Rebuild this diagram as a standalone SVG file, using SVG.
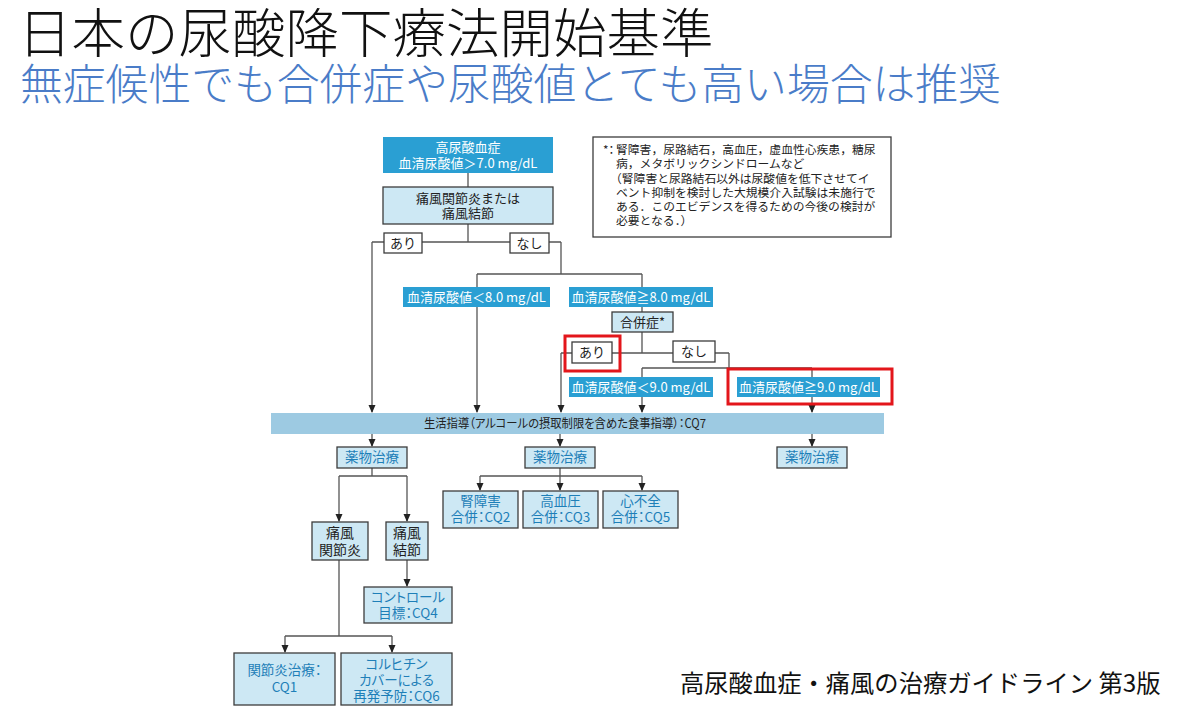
<svg xmlns="http://www.w3.org/2000/svg" width="1200" height="725" viewBox="0 0 1200 725">
<defs>
<marker id="arr" markerWidth="8" markerHeight="8" refX="7" refY="4" orient="auto" markerUnits="userSpaceOnUse">
<path d="M0,0.5 L8,4 L0,7.5 z" fill="#222"/>
</marker>
<style>
text{font-family:"Noto Sans CJK JP","Noto Sans",sans-serif;}
.ttl{font-size:53.5px;font-weight:300;fill:#111;}
.sub{font-size:42.8px;font-weight:300;fill:#4a7cc8;}
.foot{font-size:24.3px;fill:#111;}
.dk{fill:#2a9fd3;}
.lt{fill:#cde8f4;stroke:#3c3c3c;stroke-width:1.3;}
.wb{fill:#fff;stroke:#3c3c3c;stroke-width:1.3;}
.red{fill:none;stroke:#e3161b;stroke-width:3;}
.bar{fill:#9dcae2;}
.wt{font-size:13px;fill:#fff;text-anchor:middle;}
.bt{font-size:13.5px;fill:#1e7fb8;text-anchor:middle;font-feature-settings:"palt";}
.kt{font-size:13px;fill:#222;text-anchor:middle;}
.nt{font-size:11.8px;fill:#222;}
.pa{font-feature-settings:"palt";}
.ln{fill:none;stroke:#555;stroke-width:1.3;}
</style>
</defs>
<rect width="1200" height="725" fill="#fff"/>
<text class="ttl" x="18" y="53">日本の尿酸降下療法開始基準</text>
<text class="sub" x="20" y="100">無症候性でも合併症や尿酸値とても高い場合は推奨</text>
<text class="foot" x="680" y="692">高尿酸血症・痛風の治療ガイドライン 第3版</text>

<g id="connectors">
<path class="ln" d="M468,173 V187 M468,224 V242 M372,242 H561"/>
<path class="ln" d="M372,242 V412" marker-end="url(#arr)"/>
<path class="ln" d="M561,242 V274 M477,274 H642 M477,274 V287 M642,274 V287"/>
<path class="ln" d="M477,307 V412" marker-end="url(#arr)"/>
<path class="ln" d="M642,307 V312 M642,332 V353 M561,353 H729 M729,353 V368 M642,368 H812 M642,368 V377 M812,368 V377"/>
<path class="ln" d="M561,353 V412" marker-end="url(#arr)"/>
<path class="ln" d="M642,397 V412" marker-end="url(#arr)"/>
<path class="ln" d="M812,397 V412" marker-end="url(#arr)"/>
<path class="ln" d="M372,434 V446" marker-end="url(#arr)"/>
<path class="ln" d="M560,434 V446" marker-end="url(#arr)"/>
<path class="ln" d="M812,434 V446" marker-end="url(#arr)"/>
<path class="ln" d="M372,468 V476 M339,476 H407"/>
<path class="ln" d="M339,476 V521" marker-end="url(#arr)"/>
<path class="ln" d="M407,476 V521" marker-end="url(#arr)"/>
<path class="ln" d="M560,468 V476 M480,476 H642"/>
<path class="ln" d="M480,476 V490" marker-end="url(#arr)"/>
<path class="ln" d="M560,476 V490" marker-end="url(#arr)"/>
<path class="ln" d="M642,476 V490" marker-end="url(#arr)"/>
<path class="ln" d="M407,560 V586" marker-end="url(#arr)"/>
<path class="ln" d="M339,560 V636 M285,636 H392"/>
<path class="ln" d="M285,636 V652" marker-end="url(#arr)"/>
<path class="ln" d="M392,636 V652" marker-end="url(#arr)"/>
</g>

<g id="n-hyperuricemia">
<rect class="dk" x="383" y="137" width="170" height="36"/>
<text class="wt" x="468" y="152">高尿酸血症</text>
<text class="wt" x="468" y="168">血清尿酸値＞7.0 mg/dL</text>
</g>
<g id="n-gout">
<rect class="lt" x="383" y="187" width="170" height="37"/>
<text class="kt" x="468" y="203">痛風関節炎または</text>
<text class="kt" x="468" y="218">痛風結節</text>
</g>
<g id="n-ari1">
<rect class="wb" x="384" y="233" width="38" height="20"/>
<text class="kt" x="403" y="248">あり</text>
</g>
<g id="n-nashi1">
<rect class="wb" x="510" y="233" width="39" height="20"/>
<text class="kt" x="529.5" y="248">なし</text>
</g>
<g id="n-lt8">
<rect class="dk" x="403" y="287" width="147" height="20"/>
<text class="wt" x="476.5" y="302">血清尿酸値＜8.0 mg/dL</text>
</g>
<g id="n-ge8">
<rect class="dk" x="569" y="287" width="144" height="20"/>
<text class="wt" x="641" y="302">血清尿酸値≧8.0 mg/dL</text>
</g>
<g id="n-comorb">
<rect class="lt" x="612" y="312" width="61" height="20"/>
<text class="kt" x="642.5" y="327">合併症*</text>
</g>
<g id="n-ari2">
<rect class="wb" x="572" y="342" width="40" height="21"/>
<text class="kt" x="592" y="357">あり</text>
<rect class="red" x="565" y="336" width="55" height="35"/>
</g>
<g id="n-nashi2">
<rect class="wb" x="673" y="341" width="42" height="21"/>
<text class="kt" x="694" y="356">なし</text>
</g>
<g id="n-lt9">
<rect class="dk" x="569" y="377" width="144" height="20"/>
<text class="wt" x="641" y="392">血清尿酸値＜9.0 mg/dL</text>
</g>
<g id="n-ge9">
<rect class="dk" x="737" y="377" width="143" height="20"/>
<text class="wt" x="808.5" y="392">血清尿酸値≧9.0 mg/dL</text>
<rect class="red" x="728" y="369" width="164" height="35"/>
</g>
<g id="n-lifestyle">
<rect class="bar" x="271" y="413" width="613" height="21"/>
<text class="kt pa" x="565" y="428" style="font-size:12.5px" textLength="282" lengthAdjust="spacingAndGlyphs">生活指導（アルコールの摂取制限を含めた食事指導）：CQ7</text>
</g>
<g id="n-drug1">
<rect class="lt" x="337" y="447" width="70" height="21"/>
<text class="bt" x="372" y="462">薬物治療</text>
</g>
<g id="n-drug2">
<rect class="lt" x="525" y="447" width="70" height="21"/>
<text class="bt" x="560" y="462">薬物治療</text>
</g>
<g id="n-drug3">
<rect class="lt" x="777" y="447" width="70" height="21"/>
<text class="bt" x="812" y="462">薬物治療</text>
</g>
<g id="n-arthritis">
<rect class="lt" x="312" y="522" width="56" height="38"/>
<text class="kt" x="340" y="538" style="font-size:14px">痛風</text>
<text class="kt" x="340" y="555" style="font-size:14px">関節炎</text>
</g>
<g id="n-tophus">
<rect class="lt" x="386" y="522" width="42" height="38"/>
<text class="kt" x="407" y="538" style="font-size:14px">痛風</text>
<text class="kt" x="407" y="555" style="font-size:14px">結節</text>
</g>
<g id="n-renal">
<rect class="lt" x="443" y="491" width="75" height="37"/>
<text class="bt" x="480.5" y="506">腎障害</text>
<text class="bt" x="480.5" y="522">合併：CQ2</text>
</g>
<g id="n-htn">
<rect class="lt" x="523" y="491" width="75" height="37"/>
<text class="bt" x="560.5" y="506">高血圧</text>
<text class="bt" x="560.5" y="522">合併：CQ3</text>
</g>
<g id="n-hf">
<rect class="lt" x="603" y="491" width="75" height="37"/>
<text class="bt" x="640.5" y="506">心不全</text>
<text class="bt" x="640.5" y="522">合併：CQ5</text>
</g>
<g id="n-control">
<rect class="lt" x="364" y="587" width="88" height="36"/>
<text class="bt" x="408" y="602">コントロール</text>
<text class="bt" x="408" y="618">目標：CQ4</text>
</g>
<g id="n-cq1">
<rect class="lt" x="234" y="653" width="101" height="52"/>
<text class="bt" x="284.5" y="675">関節炎治療：</text>
<text class="bt" x="284.5" y="692">CQ1</text>
</g>
<g id="n-cq6">
<rect class="lt" x="341" y="653" width="111" height="52"/>
<text class="bt" x="396.5" y="669">コルヒチン</text>
<text class="bt" x="396.5" y="685">カバーによる</text>
<text class="bt" x="396.5" y="701">再発予防：CQ6</text>
</g>
<g id="n-note">
<rect class="wb" x="593" y="137" width="298" height="100"/>
<text class="nt pa" x="603" y="154">*：</text>
<text class="nt" x="616" y="154">腎障害，尿路結石，高血圧，虚血性心疾患，糖尿</text>
<text class="nt" x="616" y="168">病，メタボリックシンドロームなど</text>
<text class="nt" x="610" y="183">（腎障害と尿路結石以外は尿酸値を低下させてイ</text>
<text class="nt" x="616" y="197">ベント抑制を検討した大規模介入試験は未施行で</text>
<text class="nt" x="616" y="211">ある．このエビデンスを得るための今後の検討が</text>
<text class="nt" x="616" y="225">必要となる．）</text>
</g>
</svg>
